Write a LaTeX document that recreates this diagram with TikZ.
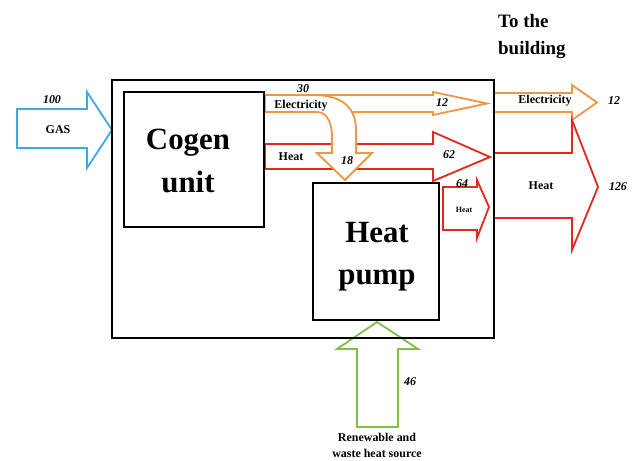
\documentclass[tikz,border=0pt]{standalone}
\usepackage{fontspec}
\setmainfont{Liberation Serif}
\definecolor{gasblue}{RGB}{60,170,222}
\definecolor{elorange}{RGB}{236,150,70}
\definecolor{heatred}{RGB}{228,40,32}
\definecolor{srcgreen}{RGB}{128,190,70}
\begin{document}
\begin{tikzpicture}[x=1bp,y=-1bp,
  box/.style={draw=black,line width=2.2bp,fill=white,inner sep=0pt,outer sep=0pt},
  flow/.style={line width=1.8bp,fill=white,line join=miter},
  lbl/.style={font=\bfseries\fontsize{12}{14}\selectfont,inner sep=0pt},
  num/.style={font=\bfseries\itshape\fontsize{12}{14}\selectfont,inner sep=0pt},
  big/.style={font=\bfseries\fontsize{31}{36}\selectfont,inner sep=0pt,anchor=base},
  head/.style={font=\bfseries\fontsize{19}{22}\selectfont,inner sep=0pt,anchor=base west}]
\useasboundingbox (0,0) rectangle (635,461);
\fill[white] (0,0) rectangle (635,461);
% gas input
\filldraw[flow,draw=gasblue] (17,109) -- (87,109) -- (87,92) -- (112,130) -- (87,168) -- (87,148) -- (17,148) -- cycle;
% electricity inside
\filldraw[flow,draw=elorange] (265,95) -- (433,95) -- (433,92) -- (487,103.5) -- (433,115) -- (433,112) -- (265,112) -- cycle;
% heat 62
\filldraw[flow,draw=heatred] (265,144) -- (433,144) -- (433,132) -- (490,157) -- (433,181) -- (433,169) -- (265,169) -- cycle;
% curved electricity 18 to heat pump
\fill[white] (313,96) .. controls (345,96) and (356,110) .. (356,130) -- (356,153) -- (372,153) -- (345,180) -- (317,153) -- (332,153) -- (332,137) .. controls (332,125) and (328,112) .. (317,112) -- cycle;
\draw[flow,fill=none,draw=elorange] (313,95) .. controls (345,95) and (356,110) .. (356,130) -- (356,153) -- (372,153) -- (345,180) -- (317,153) -- (332,153) -- (332,137) .. controls (332,125) and (328,112) .. (317,112);
% heat 64 from heat pump
\filldraw[flow,draw=heatred] (443,187) -- (477,187) -- (477,180) -- (489,207) -- (477,238) -- (477,230) -- (443,230) -- cycle;
% outputs to the building
\filldraw[flow,draw=elorange] (494,93) -- (572,93) -- (572,85) -- (597,102.5) -- (572,120) -- (572,112) -- (494,112);
\filldraw[flow,draw=heatred] (494,153) -- (572,153) -- (572,120) -- (598,187) -- (572,250) -- (572,218) -- (494,218);
% renewable source
\filldraw[flow,draw=srcgreen] (357,427) -- (357,349) -- (337,349) -- (377,322) -- (418,349) -- (398,349) -- (398,427) -- cycle;
% boxes
\node[box,fill=none,minimum width=382bp,minimum height=258bp] (plant) at (303,209) {};
\node[box,minimum width=140bp,minimum height=135bp] (cogen) at (194,159.5) {};
\node[box,minimum width=126bp,minimum height=137bp] (hp) at (376,251.5) {};
% box texts
\node[big] (cogenA) at (188,150) {Cogen};
\node[big] (cogenB) at (188,193) {unit};
\node[big] (hpA) at (377,243) {Heat};
\node[big] (hpB) at (377,285) {pump};
% labels
\node[num] (n100) at (52,100) {100};
\node[lbl] (gas) at (58,130) {GAS};
\node[num] (n30) at (303,89) {30};
\node[lbl] (elA) at (301,106) {Electricity};
\node[num] (n12a) at (442,103) {12};
\node[lbl] (heatA) at (291,157) {Heat};
\node[num] (n18) at (347,161) {18};
\node[num] (n62) at (449,155) {62};
\node[num] (n64) at (462,184) {64};
\node[lbl,font=\bfseries\fontsize{8}{9}\selectfont] (heatB) at (464,210) {Heat};
\node[lbl] (elB) at (545,101) {Electricity};
\node[num] (n12b) at (614,101) {12};
\node[lbl] (heatC) at (541,186) {Heat};
\node[num] (n126) at (618,187) {126};
\node[num] (n46) at (410,382) {46};
\node[lbl] (srcA) at (377,437) {Renewable and};
\node[lbl] (srcB) at (377,453) {waste heat source};
\node[head] (toA) at (498,28) {To the};
\node[head] (toB) at (498,55) {building};
\end{tikzpicture}
\end{document}
